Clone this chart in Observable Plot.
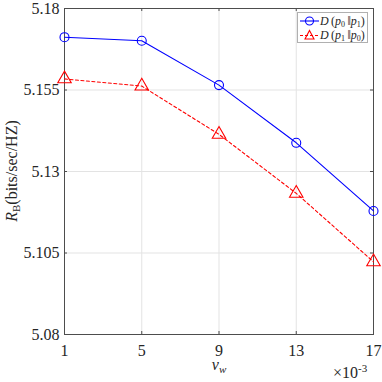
<!DOCTYPE html>
<html><head><meta charset="utf-8">
<script src="https://cdn.jsdelivr.net/npm/d3@7"></script>
<script src="https://cdn.jsdelivr.net/npm/@observablehq/plot@0.6"></script>
<style>
body{margin:0;background:#fff;}
#wrap{position:relative;width:382px;height:382px;font-family:'Liberation Serif','DejaVu Serif',serif;color:#262626;overflow:hidden;}
#wrap svg{position:absolute;left:0;top:0;}
#wrap svg text{font-family:'Liberation Serif','DejaVu Serif',serif;}
.ylab{position:absolute;left:12px;top:171px;transform:translate(-50%,-50%) rotate(-90deg);font-size:16px;white-space:nowrap;}
.xlab{position:absolute;left:219px;top:357px;transform:translateX(-50%);font-size:16px;font-style:italic;line-height:1;}
.exp{position:absolute;left:333px;top:363px;font-size:16px;white-space:nowrap;line-height:1;}
.legend{position:absolute;left:297px;top:12px;width:71px;height:31px;border:1px solid #b0b0b0;background:#fff;font-size:12px;box-sizing:border-box;}
.legend .row{position:absolute;left:2px;height:14px;display:flex;align-items:center;white-space:nowrap;}
.legend sub{font-size:8px;vertical-align:-2px;line-height:0;}
.legend svg{position:static !important;margin-right:1px;}
</style></head><body><div id="wrap"></div>
<script>
const vw = [1, 5, 9, 13, 17];
const seriesNames = ["D(p0||p1)", "D(p1||p0)"];
const dP0P1 = [5.1712, 5.1701, 5.1565, 5.1388, 5.1179];
const dP1P0 = [5.1584, 5.1562, 5.1414, 5.1233, 5.1023];
const xTicks = [1, 5, 9, 13, 17];
const yTicks = [5.08, 5.105, 5.13, 5.155, 5.18];

const rows1 = vw.map((x, i) => ({x, y: dP0P1[i], s: seriesNames[0]}));
const rows2 = vw.map((x, i) => ({x, y: dP1P0[i], s: seriesNames[1]}));

const xDom = [1, 17], yDom = [5.08, 5.18];
const W = 382, H = 382, mL = 64, mR = 9, mT = 8, mB = 48;
const tk = 3;
const xTickLen = tk * (yDom[1] - yDom[0]) / (H - mT - mB);
const yTickLen = tk * (xDom[1] - xDom[0]) / (W - mL - mR);
const axisC = "#4d4d4d";
const serif = "'Liberation Serif','DejaVu Serif',serif";

const plot = Plot.plot({
  width: W, height: H,
  marginLeft: mL, marginRight: mR, marginTop: mT, marginBottom: mB,
  style: {fontFamily: serif, fontSize: "16px", background: "white", color: "#262626"},
  x: {domain: xDom, ticks: xTicks},
  y: {domain: yDom, ticks: yTicks},
  marks: [
    Plot.gridX(xTicks, {stroke: "#e3e3e3", strokeOpacity: 1}),
    Plot.gridY(yTicks, {stroke: "#e3e3e3", strokeOpacity: 1}),
    Plot.frame({stroke: axisC, strokeWidth: 1}),
    Plot.ruleX(xTicks, {y1: yDom[0], y2: yDom[0] + xTickLen, stroke: axisC}),
    Plot.ruleX(xTicks, {y1: yDom[1], y2: yDom[1] - xTickLen, stroke: axisC}),
    Plot.ruleY(yTicks, {x1: xDom[0], x2: xDom[0] + yTickLen, stroke: axisC}),
    Plot.ruleY(yTicks, {x1: xDom[1], x2: xDom[1] - yTickLen, stroke: axisC}),
    Plot.axisX(xTicks, {tickSize: 0, tickPadding: 10, label: null, fill: "#262626", fontSize: 16}),
    Plot.axisY(yTicks, {tickSize: 0, tickPadding: 5, label: null, tickFormat: d => String(d), fill: "#262626", fontSize: 16}),
    Plot.line(rows2, {x: "x", y: "y", stroke: "#ff0000", strokeWidth: 1.1, strokeDasharray: "3,2.5"}),
    Plot.dot(rows2, {x: "x", y: "y", symbol: "triangle", r: 5, stroke: "#ff0000", strokeWidth: 1.1, fill: "none"}),
    Plot.line(rows1, {x: "x", y: "y", stroke: "#0000ff", strokeWidth: 1.1}),
    Plot.dot(rows1, {x: "x", y: "y", symbol: "circle", r: 4.5, stroke: "#0000ff", strokeWidth: 1.1, fill: "none"})
  ]
});

const wrap = document.getElementById("wrap");
wrap.appendChild(plot);
wrap.insertAdjacentHTML("beforeend", `
<div class="ylab"><i>R</i><sub style="font-size:11px;vertical-align:-3px;">B</sub>(bits/sec/HZ)</div>
<div class="xlab">v<sub style="font-size:11px;vertical-align:-3px;">w</sub></div>
<div class="exp">×10<sup style="font-size:11px;vertical-align:6px;">-3</sup></div>
<div class="legend">
  <div class="row" style="top:1px;"><svg width="19" height="12"><line x1="0" y1="6" x2="19" y2="6" stroke="#0000ff" stroke-width="1.1"/><circle cx="9.5" cy="6" r="4" fill="none" stroke="#0000ff" stroke-width="1.1"/></svg><span><i>D</i>&#8201;(<i>p</i><sub>0</sub>&#8201;‖<i>p</i><sub>1</sub>)</span></div>
  <div class="row" style="top:15px;"><svg width="19" height="12"><line x1="0" y1="6.5" x2="19" y2="6.5" stroke="#ff0000" stroke-width="1.1" stroke-dasharray="3,2"/><path d="M9.5,1.5 L14,10 L5,10 Z" fill="none" stroke="#ff0000" stroke-width="1.1"/></svg><span><i>D</i>&#8201;(<i>p</i><sub>1</sub>&#8201;‖<i>p</i><sub>0</sub>)</span></div>
</div>`);
</script>
</body></html>
